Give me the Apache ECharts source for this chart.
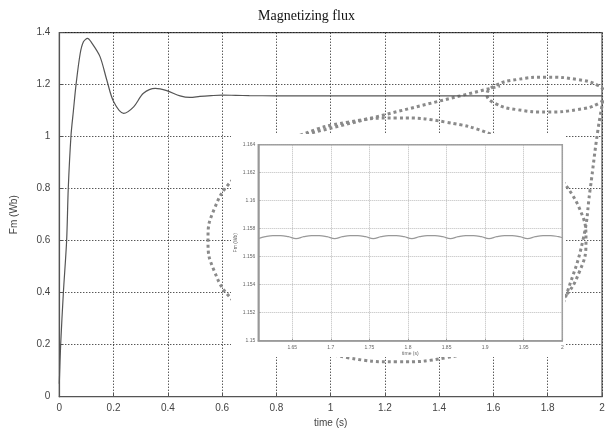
<!DOCTYPE html>
<html>
<head>
<meta charset="utf-8">
<script src="https://cdn.jsdelivr.net/npm/echarts@6/dist/echarts.min.js"></script>
<style>html,body{margin:0;padding:0;background:#fff}#c{width:613px;height:436px}</style>
</head>
<body>
<div id="c"></div>
<script>
// Main plot: magnetizing flux vs time
const mainTime = [0, 0.005, 0.015, 0.027, 0.033, 0.043, 0.052, 0.062, 0.077, 0.089, 0.104, 0.12, 0.15, 0.175, 0.2, 0.237, 0.274, 0.31, 0.354, 0.396, 0.445, 0.482, 0.518, 0.56, 0.6, 0.65, 0.7, 0.8, 1.0, 1.2, 1.4, 1.6, 1.8, 2.0];
const mainFlux = [0.05, 0.2, 0.4, 0.6, 0.8, 1.003, 1.1, 1.203, 1.32, 1.365, 1.378, 1.36, 1.308, 1.218, 1.135, 1.09, 1.115, 1.167, 1.186, 1.177, 1.157, 1.151, 1.155, 1.158, 1.16, 1.159, 1.158, 1.1574, 1.1574, 1.1574, 1.1574, 1.1574, 1.1574, 1.1574];

// Inset (zoom) plot
const insetTime = [1.606,1.615,1.625,1.635,1.645,1.655,1.665,1.675,1.685,1.695,1.705,1.715,1.725,1.735,1.745,1.755,1.765,1.775,1.785,1.795,1.805,1.815,1.825,1.835,1.845,1.855,1.865,1.875,1.885,1.895,1.905,1.915,1.925,1.935,1.945,1.955,1.965,1.975,1.985,1.995,2.0];
const insetFlux = [1.15729,1.15743,1.15751,1.15751,1.15743, 1.15729,1.15743,1.15751,1.15751,1.15743, 1.15729,1.15743,1.15751,1.15751,1.15743, 1.15729,1.15743,1.15751,1.15751,1.15743, 1.15729,1.15743,1.15751,1.15751,1.15743, 1.15729,1.15743,1.15751,1.15751,1.15743, 1.15729,1.15743,1.15751,1.15751,1.15743, 1.15729,1.15743,1.15751,1.15751,1.15743, 1.15736];
const insetTicks = [1.65, 1.7, 1.75, 1.8, 1.85, 1.9, 1.95, 2];

// Magnifier decoration outlines (in main-axis units)
const bigEllT = [1.848,1.737,1.593,1.425,1.245,1.064,0.896,0.752,0.641,0.572,0.548,0.572,0.641,0.752,0.896,1.064,1.245,1.425,1.593,1.737,1.848,1.917,1.941,1.917,1.848];
const bigEllV = [0.837,0.934,1.009,1.056,1.072,1.056,1.009,0.934,0.837,0.724,0.603,0.481,0.368,0.271,0.196,0.150,0.134,0.150,0.196,0.271,0.368,0.481,0.603,0.724,0.837];
const smallEllT = [2.018,1.988,1.908,1.797,1.687,1.606,1.576,1.606,1.687,1.797,1.908,1.988,2.018];
const smallEllV = [1.162,1.196,1.220,1.229,1.220,1.196,1.162,1.128,1.104,1.095,1.104,1.128,1.162];
const conn1T = [0.824, 1.624];
const conn1V = [0.987, 1.195];
const conn2T = [2.004, 1.985, 1.956, 1.930, 1.871, 1.845];
const conn2V = [1.140, 1.026, 0.795, 0.603, 0.399, 0.333];

const zip = (a, b) => a.map((x, i) => [x, b[i]]);
const FONT = 'Liberation Sans';
const deco = (t, v) => ({
  type: 'line', xAxisIndex: 0, yAxisIndex: 0, data: zip(t, v), smooth: true,
  showSymbol: false, silent: true, z: 2,
  lineStyle: { color: '#8a8a8a', width: 3, type: [3, 3] }
});

const chart = echarts.init(document.getElementById('c'), null, { renderer: 'canvas' });
chart.setOption({
  animation: false,
  backgroundColor: '#fff',
  title: {
    text: 'Magnetizing flux', left: 'center', top: 4,
    textStyle: { fontFamily: 'Liberation Serif', fontSize: 14, fontWeight: 'normal', color: '#111' }
  },
  grid: [
    { left: 59.3, right: 11, top: 32.7, bottom: 39.3, show: true, borderColor: '#555', borderWidth: 1.2, backgroundColor: 'transparent' },
    { left: 258.3, top: 144.7, width: 304, height: 196, show: true, borderColor: '#999', borderWidth: 1.5, backgroundColor: 'transparent', z: 10 }
  ],
  graphic: { elements: [
    { type: 'rect', z: 5, silent: true, shape: { x: 231, y: 134, width: 334, height: 223 }, style: { fill: '#fff' } }
  ]},
  xAxis: [
    {
      gridIndex: 0, type: 'value', min: 0, max: 2, interval: 0.2,
      name: 'time (s)', nameLocation: 'middle', nameGap: 22,
      nameTextStyle: { fontFamily: FONT, fontSize: 10, color: '#444' },
      axisLine: { lineStyle: { color: '#555', width: 1.2 } },
      axisTick: { inside: true, length: 4, lineStyle: { color: '#555' } },
      axisLabel: { fontFamily: FONT, fontSize: 10, color: '#444', margin: 7 },
      splitLine: { show: true, lineStyle: { color: '#111', width: 1, type: [1, 2] } }
    },
    {
      gridIndex: 1, type: 'value', min: 1.606, max: 2, z: 10,
      name: 'time (s)', nameLocation: 'middle', nameGap: 10,
      nameTextStyle: { fontFamily: FONT, fontSize: 5, color: '#666' },
      axisLine: { lineStyle: { color: '#999', width: 1.5 } },
      axisTick: { inside: true, length: 2, customValues: insetTicks, lineStyle: { color: '#999' } },
      axisLabel: { fontFamily: FONT, fontSize: 5, color: '#666', margin: 4, customValues: insetTicks, showMinLabel: true, showMaxLabel: true },
      splitLine: { show: true, lineStyle: { color: '#aaa', width: 0.8, type: [1, 1] } }
    }
  ],
  yAxis: [
    {
      gridIndex: 0, type: 'value', min: 0, max: 1.4, interval: 0.2,
      name: 'Fm (Wb)', nameLocation: 'middle', nameGap: 40,
      nameTextStyle: { fontFamily: FONT, fontSize: 10, color: '#444' },
      axisLine: { show: true, lineStyle: { color: '#555', width: 1.2 } },
      axisTick: { show: true, inside: true, length: 4, lineStyle: { color: '#555' } },
      axisLabel: { fontFamily: FONT, fontSize: 10, color: '#444', margin: 9 },
      splitLine: { show: true, lineStyle: { color: '#111', width: 1, type: [1, 2] } }
    },
    {
      gridIndex: 1, type: 'value', min: 1.15, max: 1.164, interval: 0.002, z: 10,
      name: 'Fm (Wb)', nameLocation: 'middle', nameGap: 20,
      nameTextStyle: { fontFamily: FONT, fontSize: 5, color: '#666' },
      axisLine: { show: true, lineStyle: { color: '#999', width: 1.5 } },
      axisTick: { show: true, inside: true, length: 2, lineStyle: { color: '#999' } },
      axisLabel: { fontFamily: FONT, fontSize: 5, color: '#666', margin: 3 },
      splitLine: { show: true, lineStyle: { color: '#aaa', width: 0.8, type: [1, 1] } }
    }
  ],
  series: [
    {
      type: 'line', xAxisIndex: 0, yAxisIndex: 0, data: zip(mainTime, mainFlux),
      smooth: 0.3, showSymbol: false, z: 3,
      lineStyle: { color: '#555', width: 1.2 }
    },
    deco(bigEllT, bigEllV),
    deco(smallEllT, smallEllV),
    Object.assign(deco(conn1T, conn1V), { smooth: false }),
    deco(conn2T, conn2V),
    {
      type: 'line', xAxisIndex: 1, yAxisIndex: 1, data: zip(insetTime, insetFlux),
      smooth: 0.4, showSymbol: false, z: 12,
      lineStyle: { color: '#999', width: 1.2 }
    }
  ]
});
</script>
</body>
</html>
